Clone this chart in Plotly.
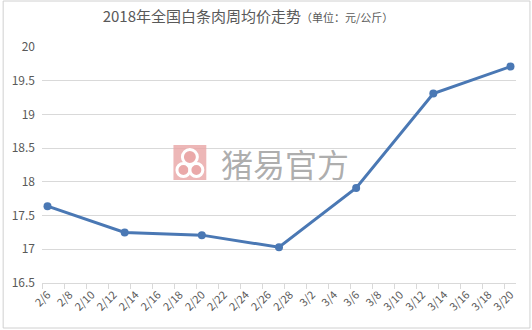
import plotly.graph_objects as go

dates = ["2018-02-06", "2018-02-13", "2018-02-20", "2018-02-27", "2018-03-06", "2018-03-13", "2018-03-20"]
prices = [17.64, 17.25, 17.21, 17.03, 17.91, 19.31, 19.71]

title_main = "2018年全国白条肉周均价走势"
title_unit = "（单位：元/公斤）"
watermark = "猪易官方"

W, H = 532, 330
ml, mr, mt, mb = 40, 16, 47, 47
pw, ph = W - ml - mr, H - mt - mb

font = "Noto Sans CJK SC, Liberation Sans, sans-serif"
grey = "#595959"
pink = "rgba(233,165,165,0.8)"

fig = go.Figure()
fig.add_trace(go.Scatter(
    x=dates, y=prices, mode="lines+markers",
    line=dict(color="#4a78b4", width=3),
    marker=dict(color="#4a78b4", size=8),
    hoverinfo="x+y", showlegend=False,
))

def px_x(x):
    return (x - ml) / pw
def px_y(y):
    return (H - mb - y) / ph

def circ(cx, cy, r, lw):
    return dict(type="circle", xref="paper", yref="paper",
                x0=px_x(cx - r), x1=px_x(cx + r), y0=px_y(cy + r), y1=px_y(cy - r),
                line=dict(color="white", width=lw), fillcolor=pink)

shapes = [
    dict(type="rect", xref="paper", yref="paper",
         x0=px_x(1), x1=px_x(530), y0=px_y(328), y1=px_y(1),
         line=dict(color="#d0d0d0", width=1), layer="below"),
    dict(type="rect", xref="paper", yref="paper",
         x0=px_x(172), x1=px_x(205), y0=px_y(180), y1=px_y(145),
         line=dict(width=0), fillcolor=pink, layer="above"),
    circ(188.5, 157, 7.5, 3),
    circ(182, 170, 6.5, 3),
    circ(195, 170, 6.5, 3),
]

fig.update_layout(
    width=W, height=H,
    margin=dict(l=ml, r=mr, t=mt, b=mb),
    paper_bgcolor="white", plot_bgcolor="white",
    font=dict(family=font, color=grey, size=11),
    title=dict(
        text=f"{title_main}<span style='font-size:11px'>{title_unit}</span>",
        x=248 / W, xanchor="center", y=1 - 17 / H, yanchor="middle",
        font=dict(size=15, color=grey, family=font),
    ),
    shapes=shapes,
    annotations=[dict(
        text=watermark, xref="paper", yref="paper",
        x=px_x(284), y=px_y(163), xanchor="center", yanchor="middle",
        showarrow=False, font=dict(size=32, color="rgba(160,160,160,0.85)", family=font),
    )],
)

fig.update_xaxes(
    type="date",
    range=["2018-02-05 12:00", "2018-03-20 12:00"],
    tick0="2018-02-06", dtick=2 * 86400000,
    tickformat="%-m/%-d", tickangle=-45,
    tickfont=dict(size=11, color=grey),
    ticks="", showgrid=False,
    showline=True, linecolor="#d9d9d9", linewidth=1,
    minor=dict(tick0="2018-02-05 12:00", dtick=2 * 86400000,
               ticks="outside", ticklen=5, tickcolor="#d9d9d9", showgrid=False),
    fixedrange=True,
)
fig.update_yaxes(
    range=[16.5, 20], dtick=0.5, tick0=16.5,
    showgrid=True, gridcolor="#d9d9d9", gridwidth=1,
    zeroline=False, showline=False, ticks="",
    tickfont=dict(size=12, color=grey), ticklabelstandoff=6,
    fixedrange=True,
)

fig.write_html("out.html")
